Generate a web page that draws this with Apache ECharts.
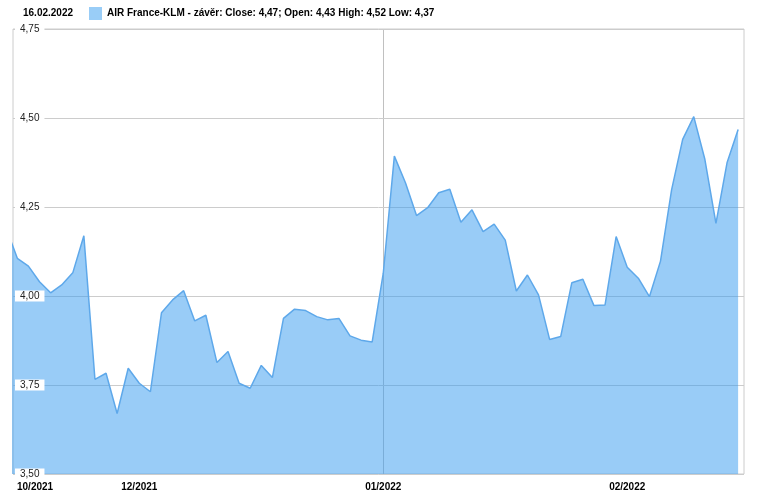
<!DOCTYPE html>
<html>
<head>
<meta charset="utf-8">
<script src="https://cdn.jsdelivr.net/npm/echarts@6/dist/echarts.min.js"></script>
<style>
html,body{margin:0;padding:0;background:#fff;}
#chart{width:758px;height:496px;}
</style>
</head>
<body>
<div id="chart"></div>
<script>
// Date shown in the header
var headerDate = '16.02.2022';
// Series name (legend)
var seriesName = 'AIR France-KLM - závěr: Close: 4,47; Open: 4,43 High: 4,52 Low: 4,37';
// Daily close values (trading-day order); first one lies just before the visible range
var closeValues = [
  4.19,
  4.106, 4.084, 4.040, 4.009, 4.031, 4.065, 4.169, 3.766, 3.783, 3.670,
  3.797, 3.755, 3.731, 3.953, 3.989, 4.015, 3.930, 3.946, 3.813, 3.844,
  3.755, 3.741, 3.805, 3.771, 3.937, 3.963, 3.959, 3.942, 3.933, 3.937,
  3.888, 3.876, 3.871, 4.064, 4.393, 4.318, 4.226, 4.248, 4.290, 4.300,
  4.207, 4.242, 4.181, 4.202, 4.157, 4.014, 4.059, 4.003, 3.878, 3.886,
  4.037, 4.047, 3.973, 3.975, 4.167, 4.081, 4.050, 3.998, 4.098, 4.298,
  4.440, 4.504, 4.384, 4.204, 4.374, 4.468
];
var firstIndex = -1;
// Month tick labels and the trading-day index where they sit
var monthLabels = ['10/2021', '12/2021', '01/2022', '02/2022'];
var monthLabelIndex = [1.6, 11, 33, 55];
// Year boundary line (trading-day index)
var yearLineIndex = 33;
// Y ticks
var yMin = 3.5, yMax = 4.75, yStep = 0.25;

var seriesData = closeValues.map(function (v, i) { return [firstIndex + i, v]; });
var labelMap = {};
monthLabelIndex.forEach(function (p, i) { labelMap[p] = monthLabels[i]; });

var chart = echarts.init(document.getElementById('chart'), null, {renderer: 'canvas'});
var FONT = 'Liberation Sans, Arial, sans-serif';
chart.setOption({
  animation: false,
  backgroundColor: '#fff',
  title: {
    text: headerDate,
    left: 23, top: 8, padding: 0,
    textStyle: {fontFamily: FONT, fontSize: 10, fontWeight: 'bold', color: '#000'}
  },
  legend: {
    left: 89, top: 7, padding: 0,
    itemWidth: 13, itemHeight: 13,
    itemGap: 10,
    data: [{name: seriesName, icon: 'rect', itemStyle: {color: '#99cdf7', borderWidth: 0}}],
    textStyle: {fontFamily: FONT, fontSize: 10, fontWeight: 'bold', color: '#000'},
    selectedMode: false
  },
  grid: {
    left: 13, right: 14, top: 29, bottom: 22,
    show: true, borderColor: '#cccccc', borderWidth: 1, backgroundColor: 'transparent'
  },
  xAxis: {
    type: 'value',
    min: -0.39, max: 65.53,
    axisLine: {show: false},
    axisTick: {show: false},
    splitLine: {show: false},
    axisLabel: {
      customValues: monthLabelIndex,
      formatter: function (v) { return labelMap[v] || ''; },
      fontFamily: FONT, fontSize: 10, fontWeight: 'bold', color: '#000',
      margin: 8
    }
  },
  yAxis: {
    type: 'value',
    min: yMin, max: yMax, interval: yStep,
    axisLine: {show: false},
    axisTick: {show: false},
    splitLine: {show: true, lineStyle: {color: '#cccccc', width: 1}},
    axisLabel: {
      inside: true,
      margin: 2,
      fontFamily: FONT, fontSize: 10, color: '#222',
      backgroundColor: '#fff',
      padding: [1, 5, 0, 5],
      formatter: function (v) { return v.toFixed(2).replace('.', ','); }
    },
    z: 3
  },
  series: [{
    name: seriesName,
    type: 'line',
    data: seriesData,
    showSymbol: false,
    clip: true,
    lineStyle: {color: '#5ea8ea', width: 1.5},
    itemStyle: {color: '#99cdf7'},
    areaStyle: {color: 'rgba(52,154,240,0.5)', opacity: 1, origin: 'start'},
    markLine: {
      silent: true,
      symbol: ['none', 'none'],
      label: {show: false},
      lineStyle: {color: '#c0c0c0', width: 1, type: 'solid'},
      data: [{xAxis: yearLineIndex}],
      z: 1
    }
  }]
});
</script>
</body>
</html>
